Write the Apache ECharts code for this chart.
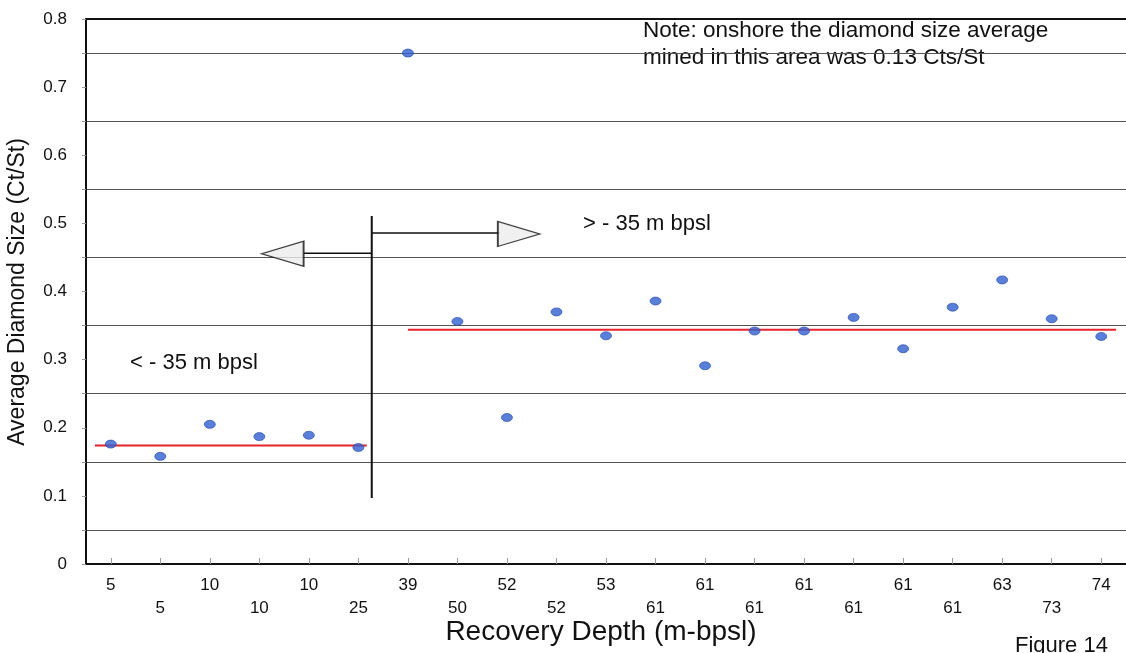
<!DOCTYPE html>
<html>
<head>
<meta charset="utf-8">
<script src="https://cdn.jsdelivr.net/npm/echarts@6/dist/echarts.min.js"></script>
<style>
html,body{margin:0;padding:0;background:#fff;}
#chart{width:1126px;height:653px;}
</style>
</head>
<body>
<div id="chart"></div>
<script>
// ---- data ----
const depthLabels = ['5','5','10','10','10','25','39','50','52','52','53','61','61','61','61','61','61','61','63','73','74'];
const diamondSize = [0.176,0.158,0.205,0.187,0.189,0.171,0.750,0.356,0.215,0.370,0.335,0.386,0.291,0.342,0.342,0.362,0.316,0.377,0.417,0.360,0.334];
const yTicks = [0,0.1,0.2,0.3,0.4,0.5,0.6,0.7,0.8];
// group average lines: [startIndex, endIndex, value]
const shallowAverage = [-0.32, 5.17, 0.174];
const deepAverage = [6.0, 20.3, 0.344];
// divider and arrows (category-index units, value units)
const dividerLine = [[5.27,0.097],[5.27,0.511]];
const rightArrowShaft = [[5.27,0.486],[7.85,0.486]];
const leftArrowShaft = [[5.27,0.456],[3.9,0.456]];
const arrowHeads = [[8.24,0.4845,-90],[3.47,0.4555,90]];

const FONT = "'Liberation Sans', Arial, sans-serif";
const chart = echarts.init(document.getElementById('chart'), null, {renderer:'canvas'});

const option = {
  backgroundColor:'#ffffff',
  animation:false,
  textStyle:{fontFamily:FONT},
  grid:{left:86, top:19, width:1045, height:545, containLabel:false},
  xAxis:[{
    type:'category',
    data:depthLabels,
    boundaryGap:true,
    axisLine:{show:true, onZero:false, lineStyle:{color:'#111', width:2}},
    axisTick:{show:true, inside:true, alignWithLabel:true, length:6, lineStyle:{color:'#999'}},
    axisLabel:{
      interval:0, fontSize:17, color:'#111', fontFamily:FONT, margin:10, lineHeight:23,
      formatter:function(v, i){ return (i % 2) ? '\n' + v : v; }
    },
    splitLine:{show:false}
  },{
    type:'value', min:-0.5, max:20.5, position:'top',
    axisLine:{show:true, onZero:false, lineStyle:{color:'#111', width:2}},
    axisTick:{show:false}, axisLabel:{show:false}, splitLine:{show:false}
  }],
  yAxis:[{
    type:'value', min:0, max:0.8, interval:0.05, position:'left',
    axisLine:{show:true, onZero:false, lineStyle:{color:'#111', width:2}},
    axisTick:{show:true, length:4, lineStyle:{color:'#999'}},
    axisLabel:{
      fontSize:17, color:'#111', fontFamily:FONT, margin:19,
      formatter:function(v){
        const k = Math.round(v*20);
        if (k % 2 !== 0) return '';
        const t = yTicks.find(function(x){ return Math.abs(x - v) < 1e-6; });
        return t === undefined ? '' : String(t);
      }
    },
    splitLine:{show:true, lineStyle:{color:['rgba(0,0,0,0)','#555'], width:1}}
  }],
  series:[
    {
      type:'line', xAxisIndex:1, yAxisIndex:0, symbol:'none', z:3,
      lineStyle:{color:'#e8232b', width:2},
      data:[[shallowAverage[0], shallowAverage[2]],[shallowAverage[1], shallowAverage[2]]]
    },
    {
      type:'line', xAxisIndex:1, yAxisIndex:0, symbol:'none', z:3,
      lineStyle:{color:'#e8232b', width:2},
      data:[[deepAverage[0], deepAverage[2]],[deepAverage[1], deepAverage[2]]]
    },
    {
      type:'line', xAxisIndex:1, yAxisIndex:0, symbol:'none', z:4,
      lineStyle:{color:'#111', width:2}, data:dividerLine
    },
    {
      type:'line', xAxisIndex:1, yAxisIndex:0, symbol:'none', z:4,
      lineStyle:{color:'#111', width:1.5}, data:rightArrowShaft
    },
    {
      type:'line', xAxisIndex:1, yAxisIndex:0, symbol:'none', z:4,
      lineStyle:{color:'#111', width:1.5}, data:leftArrowShaft
    },
    {
      type:'scatter', xAxisIndex:1, yAxisIndex:0, z:5,
      symbol:'triangle', symbolSize:[25,42],
      itemStyle:{color:'#ececec', borderColor:'#111', borderWidth:1.5},
      data:arrowHeads.map(function(a){ return {value:[a[0],a[1]], symbolRotate:a[2]}; })
    },
    {
      type:'scatter', xAxisIndex:0, yAxisIndex:0, z:6,
      symbol:'circle', symbolSize:[11,8],
      itemStyle:{color:'#2f5fd3', borderColor:'#2447a8', borderWidth:0.8},
      data:diamondSize.map(function(v,i){ return [i, v]; })
    }
  ],
  graphic:[
    {type:'text', left:643, top:17, silent:true,
      style:{text:'Note: onshore the diamond size average\nmined in this area was 0.13 Cts/St', font:'22.5px '+FONT, fill:'#111', lineHeight:27}},
    {type:'text', x:583, y:224, silent:true,
      style:{text:'> - 35 m bpsl', font:'22px '+FONT, fill:'#111', textVerticalAlign:'middle'}},
    {type:'text', x:130, y:363, silent:true,
      style:{text:'< - 35 m bpsl', font:'22px '+FONT, fill:'#111', textVerticalAlign:'middle'}},
    {type:'text', x:601, y:632, silent:true,
      style:{text:'Recovery Depth (m-bpsl)', font:'28px '+FONT, fill:'#111', textAlign:'center', textVerticalAlign:'middle'}},
    {type:'text', x:18, y:292, rotation:Math.PI/2, silent:true,
      style:{text:'Average Diamond Size (Ct/St)', font:'23px '+FONT, fill:'#111', textAlign:'center', textVerticalAlign:'middle'}},
    {type:'text', x:1015, y:646, silent:true,
      style:{text:'Figure 14', font:'22px '+FONT, fill:'#111', textVerticalAlign:'middle'}}
  ]
};
chart.setOption(option);
</script>
</body>
</html>
